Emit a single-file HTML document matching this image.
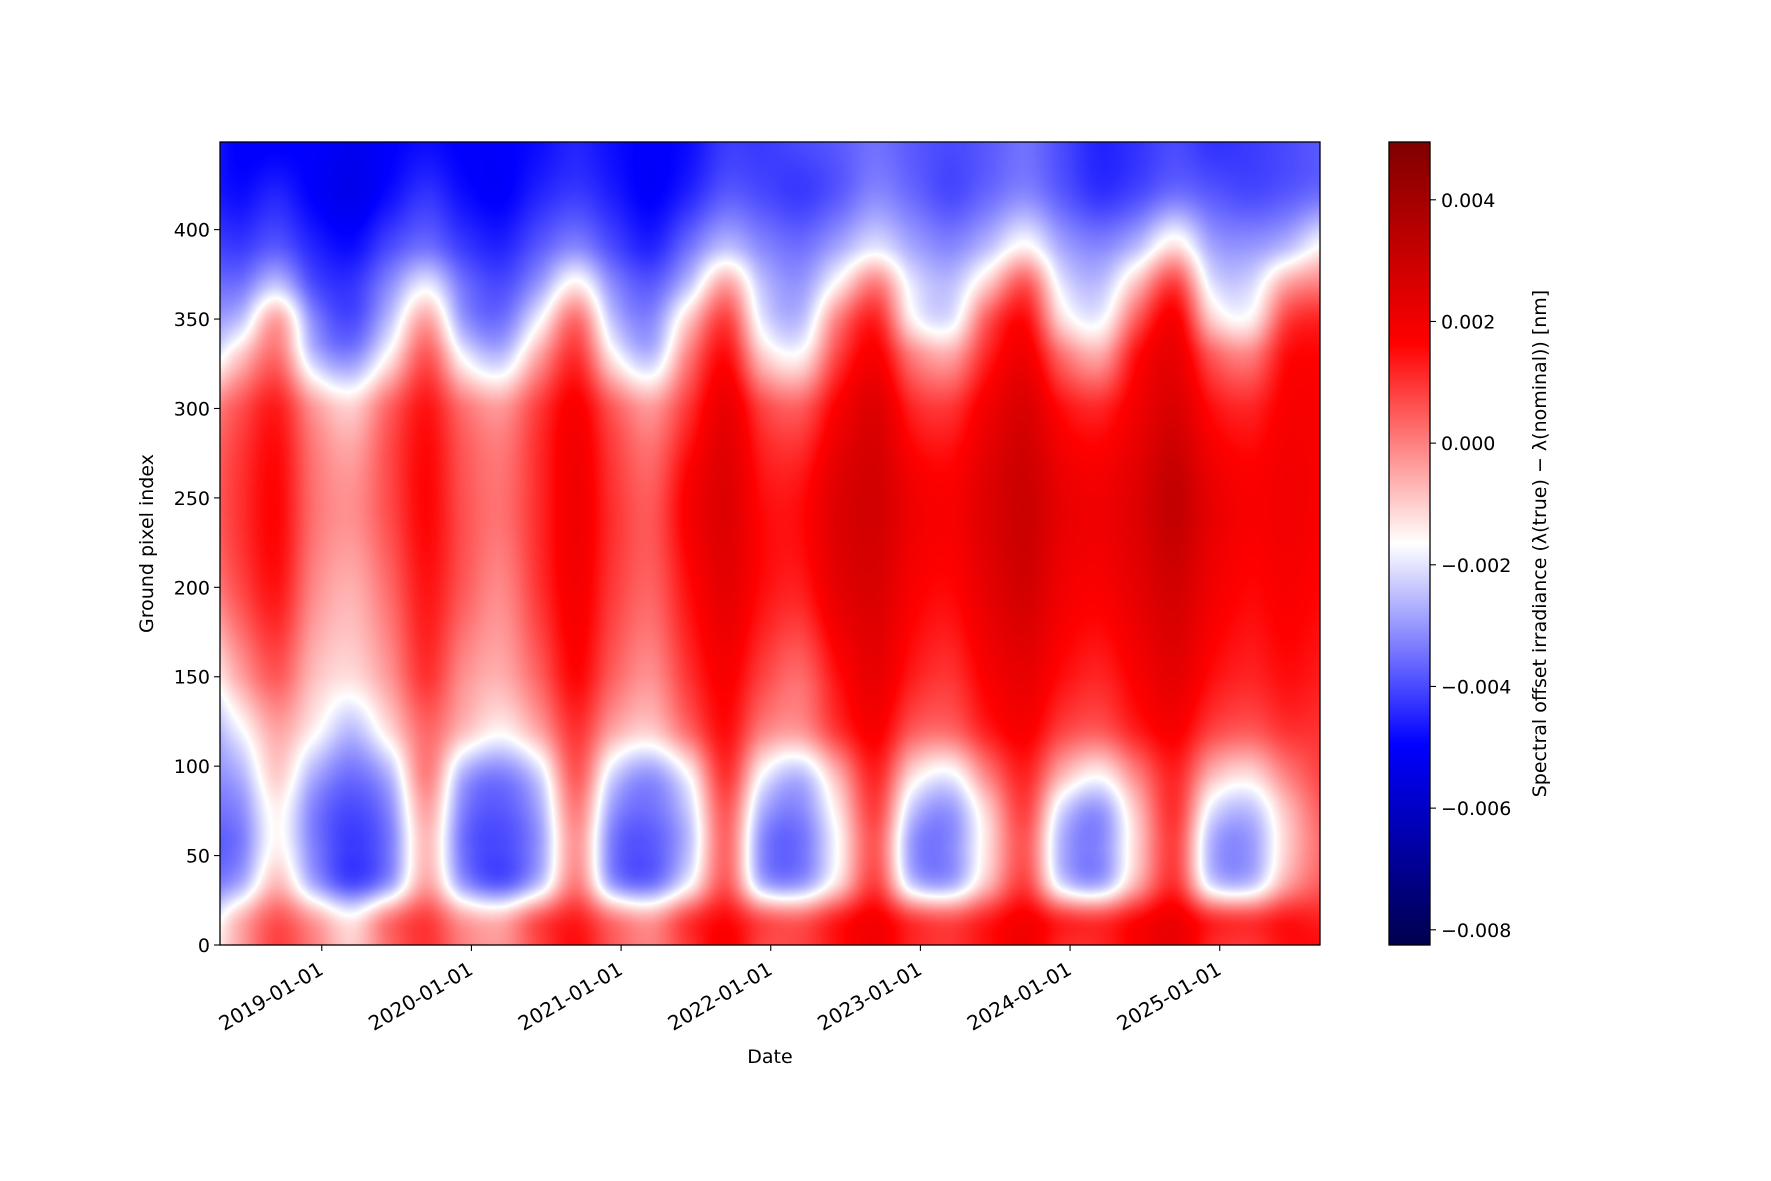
<!DOCTYPE html>
<html><head><meta charset="utf-8">
<style>
html,body{margin:0;padding:0;background:#fff;}
#wrap{position:relative;width:1771px;height:1181px;overflow:hidden;font-family:"Liberation Sans","DejaVu Sans",sans-serif;}
#hm{position:absolute;left:220px;top:142px;}
svg{position:absolute;left:0;top:0;}
text{font-family:"DejaVu Sans","Liberation Sans",sans-serif;font-size:19px;fill:#000;}
</style></head>
<body>
<div id="wrap">
<canvas id="hm" width="1100" height="803"></canvas>
<svg id="ax" width="1771" height="1181"></svg>
</div>
<script>
// ---- data (values in units of 1e-3 nm) ----
const colTimes = [2018.2,2018.45,2018.7,2018.95,2019.2,2019.45,2019.7,2019.95,2020.2,2020.45,2020.7,2020.95,2021.2,2021.45,2021.7,2021.95,2022.2,2022.45,2022.7,2022.95,2023.2,2023.45,2023.7,2023.95,2024.2,2024.45,2024.7,2024.95,2025.2,2025.45,2025.7];
const rowPixels = [0,15,35,55,75,95,120,150,200,250,300,330,350,370,390,420,449];
const row0   = [-2,-0.5,0.8,0, -1,0.3,1,0, -0.3,0.8,1.5,0.5, 0,1,1.8,0.8, 0.8,1.5,2,1.2, 1,1.5,2,1.2, 1.2,1.8,2.2,1.2, 1,1.5,1.5];
const row15  = [-2.5,-0.8,0.5,-0.5, -1.5,0,0.8,-0.5, -0.8,0.5,1.2,0, -0.5,0.8,1.5,0.5, 0.3,1.2,1.8,0.8, 0.5,1.2,1.8,1, 0.8,1.5,2,1, 0.8,1.3,1.2];
const row35  = [-3.5,-2.8,-0.8,-2.8, -4,-3,-0.5,-3, -3.8,-2.5,0,-3, -3.5,-1.8,0.5,-2.7, -3,-1.2,0.8,-2.4, -2.8,-0.8,0.8,-2.2, -2.8,-0.6,1,-2.2, -2.5,-0.5,0.5];
const row55  = [-3.8,-3.4,-1.5,-3.3, -4.2,-3.4,-0.8,-3.5, -4,-3,-0.3,-3.4, -3.8,-2.5,0.3,-3.2, -3.5,-1.6,0.5,-3, -3.2,-1.2,0.5,-2.7, -3.2,-1,0.8,-2.7, -3,-1,0.3];
const row75  = [-3.5,-3.2,-1.5,-3.3, -4,-3.2,-0.5,-3.3, -3.8,-2.8,0,-3, -3.5,-2.3,0.5,-2.7, -3.2,-1.3,0.8,-2.4, -3,-1,0.8,-2.2, -3,-0.8,1,-2, -2.5,-0.8,0.5];
const row95  = [-3.2,-2.7,-1,-2.7, -3.5,-2.6,0,-2.7, -3.3,-2.2,0.5,-2.2, -3,-1.6,1,-1.7, -2.5,-0.6,1.2,-1.2, -1.8,0,1.2,-0.7, -1.5,0,1.2,-0.7, -1.2,0,0.8];
const row120 = [-3,-1.8,-0.5,-1.5, -2.5,-1.2,0.3,-0.8, -1.5,-0.5,1,-0.5, -1,0.3,1.5,0, -0.3,1,1.8,0.5, 0.3,1.3,1.8,0.8, 0.5,1.3,1.8,0.8, 0.5,1,1];
const row150 = [-2,-0.5,0.5,-0.8, -1.2,-0.3,1,-0.2, -0.6,0.4,1.6,0.4, -0.2,1,1.8,0.8, 0.3,1.5,2.2,1.3, 1,1.8,2.2,1.5, 1.2,1.8,2.3,1.5, 1.2,1.5,1.3];
const row200 = [-0.3,0.7,1.4,-0.1, -0.6,0.3,1.4,0.5, -0.1,1,1.9,0.9, 0.4,1.5,2.3,1.5, 1.3,2.3,2.6,1.8, 1.6,2.3,2.8,2, 1.8,2.3,2.8,2, 1.6,1.8,1.6];
const row250 = [0.2,1,1.6,0.2, -0.2,0.7,1.6,0.6, 0.2,1.1,2,1, 0.5,1.8,2.5,1.5, 1.5,2.5,2.8,2, 1.8,2.5,3,2.2, 2,2.5,3.2,2.2, 1.8,2,1.8];
const row300 = [-0.3,0.6,1.3,-0.3, -1,0.4,1.4,0.2, -0.3,0.9,1.8,0.5, -0.3,1,2.2,0.8, 0.5,1.8,2.5,1.2, 1,2,2.6,1.5, 1.2,2,2.6,1.5, 1.2,1.8,1.8];
const row330 = [-2.5,-1,0.2,-2.5, -3.2,-1.5,0.5,-1.8, -2.5,-0.5,1,-1.5, -2.5,0,1.5,-1, -1.5,0.8,1.8,0, -0.5,1.2,2,0.2, -0.5,1.5,2.2,0.5, 0,1.5,1.6];
const row350 = [-3,-2.5,-0.5,-3.2, -4,-2.5,-0.5,-3, -3.5,-1.8,0.2,-2.5, -3.2,-1,0.8,-2, -2.5,0,1.2,-1.5, -2,0.5,1.5,-1.2, -1.8,0.5,1.8,-1, -1.5,0.8,1.2];
const row370 = [-3.5,-3.5,-2.5,-4, -4.3,-3.2,-2,-3.5, -4,-3,-1.5,-3.2, -3.8,-2.5,-0.5,-2.5, -3,-1.5,0,-2, -2.5,-1,0.5,-2, -2.5,-0.8,0.8,-2, -2.2,-0.5,0];
const row390 = [-4,-4.2,-3.8,-4.5, -4.8,-4,-3.5,-4.2, -4.5,-3.8,-3.2,-4, -4.5,-3.5,-2.5,-3.2, -3.5,-2.8,-2,-2.8, -3.2,-2.5,-1.5,-2.8, -3.2,-2.5,-1.2,-2.8, -3,-2.5,-1.5];
const row420 = [-4.5,-4.8,-4.5,-5, -5.3,-4.8,-4.3,-4.8, -5,-4.5,-4.2,-4.6, -5,-4.5,-3.8,-4, -4.2,-3.8,-3.2,-3.6, -4,-3.6,-3.2,-3.8, -4.3,-4,-3.5,-3.8, -4,-3.8,-3.5];
const row449 = [-4.5,-5,-5,-5, -5.2,-5,-4.8,-5, -5,-4.8,-4.5,-4.8, -5,-4.8,-4.2,-4.2, -4,-3.8,-3.5,-3.8, -4,-3.8,-3.5,-4, -4.5,-4.3,-4,-4.3, -4.2,-4,-3.8];
const yTicks = [0,50,100,150,200,250,300,350,400];
const xTickYears = [2019,2020,2021,2022,2023,2024,2025];
const xTickLabels = ["2019-01-01","2020-01-01","2021-01-01","2022-01-01","2023-01-01","2024-01-01","2025-01-01"];
const cbTicks = [0.004,0.002,0.000,-0.002,-0.004,-0.006,-0.008];
const cbTickLabels = ["0.004","0.002","0.000","\u22120.002","\u22120.004","\u22120.006","\u22120.008"];

const grid = [row0,row15,row35,row55,row75,row95,row120,row150,row200,row250,row300,row330,row350,row370,row390,row420,row449];
const VMIN = -8.25, VMAX = 4.95;
const X0=220, X1=1320, Y0=945, Y1=142, T0=2018.32, T1=2025.67, YMAX=449;
function xScale(t){ return X0 + (t-T0)/(T1-T0)*(X1-X0); }
function yScale(v){ return Y0 - v/YMAX*(Y0-Y1); }
function cbScale(v){ return Y0 - (v*1000-VMIN)/(VMAX-VMIN)*(Y0-Y1); }
function seismic(t){
  t=Math.max(0,Math.min(1,t)); let r,g,b;
  if(t<0.25){ r=0; g=0; b=0.3+0.7*t/0.25; }
  else if(t<0.5){ const u=(t-0.25)/0.25; r=u; g=u; b=1; }
  else if(t<0.75){ const u=(t-0.5)/0.25; r=1; g=1-u; b=1-u; }
  else { const u=(t-0.75)/0.25; r=1-0.5*u; g=0; b=0; }
  return [r*255,g*255,b*255];
}
function interp(arr,x){
  if(x<=arr[0]) return [0,0];
  for(let i=0;i<arr.length-1;i++) if(x<=arr[i+1]) return [i,(x-arr[i])/(arr[i+1]-arr[i])];
  return [arr.length-2,1];
}
function cr(p0,p1,p2,p3,t){
  return 0.5*((2*p1)+(-p0+p2)*t+(2*p0-5*p1+4*p2-p3)*t*t+(-p0+3*p1-3*p2+p3)*t*t*t);
}
function rowAt(r,ci,cf){
  const n=r.length, g=i=>r[Math.max(0,Math.min(n-1,i))];
  return cr(g(ci-1),g(ci),g(ci+1),g(ci+2),cf);
}
// heatmap
(function(){
  const c=document.getElementById('hm'), ctx=c.getContext('2d');
  const W=c.width, H=c.height, img=ctx.createImageData(W,H), d=img.data;
  const colIdx=[];
  for(let px=0;px<W;px++){ const t=T0+(px+0.5)/W*(T1-T0); colIdx.push(interp(colTimes,t)); }
  const rowsAtCol=[];
  for(let px=0;px<W;px++){ const [ci,cf]=colIdx[px]; rowsAtCol.push(grid.map(r=>rowAt(r,ci,cf))); }
  const n=grid.length;
  for(let py=0;py<H;py++){
    const v=(Y0-(Y1+py+0.5))/(Y0-Y1)*YMAX;
    const [ri,rf]=interp(rowPixels,v);
    for(let px=0;px<W;px++){
      const col=rowsAtCol[px], g=i=>col[Math.max(0,Math.min(n-1,i))];
      const val=cr(g(ri-1),g(ri),g(ri+1),g(ri+2),rf);
      const c3=seismic((val-VMIN)/(VMAX-VMIN));
      const k=(py*W+px)*4; d[k]=c3[0]; d[k+1]=c3[1]; d[k+2]=c3[2]; d[k+3]=255;
    }
  }
  ctx.putImageData(img,0,0);
})();
// axes
(function(){
  const svg=document.getElementById('ax'), NS='http://www.w3.org/2000/svg';
  function mk(tag,attrs,parent){ const e=document.createElementNS(NS,tag); for(const k in attrs) e.setAttribute(k,attrs[k]); (parent||svg).appendChild(e); return e; }
  let e;
  e=mk('rect',{x:X0,y:Y1,width:X1-X0,height:Y0-Y1,fill:'none',stroke:'#000','stroke-width':1.3});
  
  
  yTicks.forEach(v=>{
    const y=yScale(v);
    e=mk('line',{x1:X0-6,x2:X0,y1:y,y2:y,stroke:'#000','stroke-width':1.1});
    
    
    e=mk('text',{x:X0-10,y:y+7,'text-anchor':'end'}); e.textContent=String(v);
    
    
  });
  xTickYears.forEach((yr,i)=>{
    const x=xScale(yr);
    e=mk('line',{x1:x,x2:x,y1:Y0,y2:Y0+6,stroke:'#000','stroke-width':1.1});
    
    
    e=mk('text',{x:0,y:14,'text-anchor':'end',style:'font-size:20px',transform:'translate('+(x-4)+' '+(Y0+16)+') rotate(-30)'}); e.textContent=xTickLabels[i];
    
    
  });
  e=mk('text',{x:(X0+X1)/2,y:1063,'text-anchor':'middle'}); e.textContent='Date';
  
  
  e=mk('text',{x:153,y:(Y0+Y1)/2,'text-anchor':'middle',transform:'rotate(-90 153 '+((Y0+Y1)/2)+')'}); e.textContent='Ground pixel index';
  
  
  // colorbar
  const defs=mk('defs',{});
  const lg=mk('linearGradient',{id:'cbg',x1:0,y1:1,x2:0,y2:0},defs);
  for(let i=0;i<=20;i++){ const col=seismic(i/20); mk('stop',{offset:(i/20),'stop-color':'rgb('+col.map(Math.round).join(',')+')'},lg); }
  e=mk('rect',{x:1389,y:Y1,width:41,height:Y0-Y1,fill:'url(#cbg)',stroke:'#000','stroke-width':1.3});
  
  
  cbTicks.forEach((v,i)=>{
    const y=cbScale(v);
    e=mk('line',{x1:1430,x2:1436,y1:y,y2:y,stroke:'#000','stroke-width':1.1});
    
    
    e=mk('text',{x:1441,y:y+7}); e.textContent=cbTickLabels[i];
    
    
  });
  e=mk('text',{x:1546,y:(Y0+Y1)/2,'text-anchor':'middle',transform:'rotate(-90 1546 '+((Y0+Y1)/2)+')'}); e.textContent='Spectral offset irradiance (\u03bb(true) \u2212 \u03bb(nominal)) [nm]';
  
  
})();
</script>
</body></html>
